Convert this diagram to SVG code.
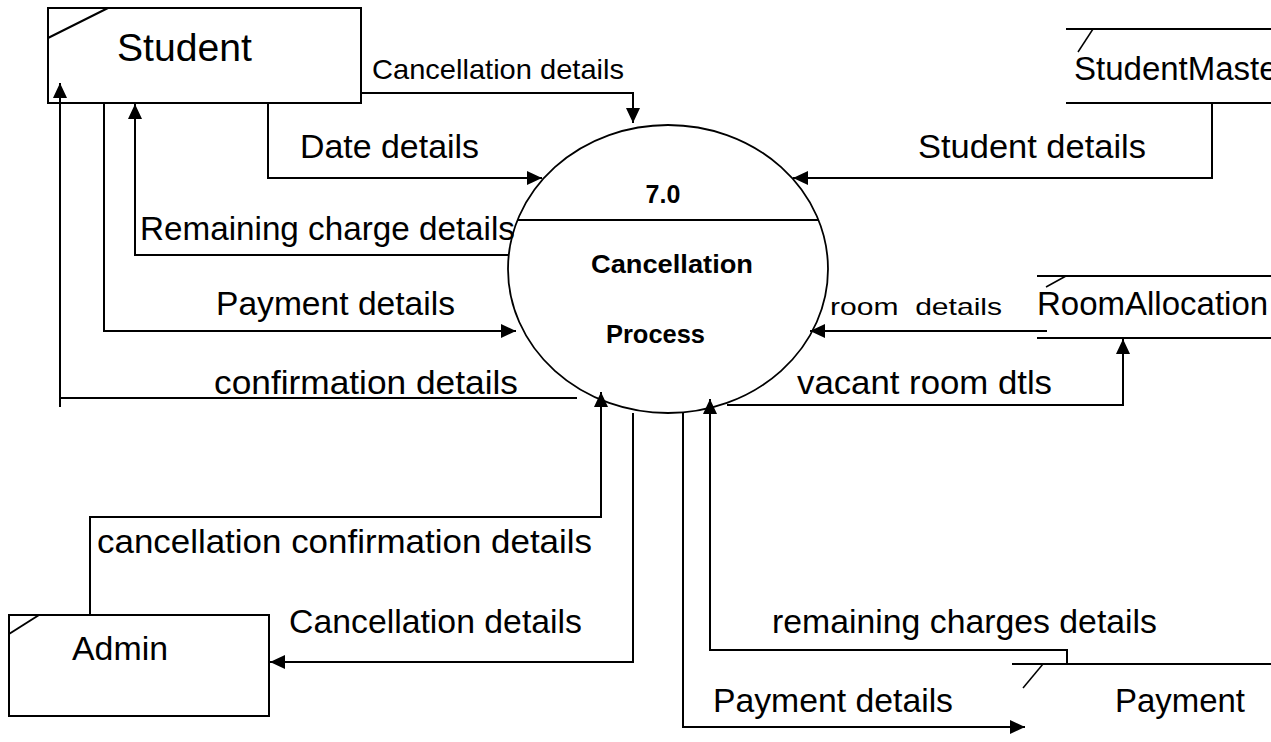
<svg xmlns="http://www.w3.org/2000/svg" width="1271" height="742" viewBox="0 0 1271 742">
<style>
.ln{fill:none;stroke:#000;stroke-width:2}
.bx{fill:#fff;stroke:#000;stroke-width:2}
.t{font-family:"Liberation Sans",Arial,sans-serif;font-size:33px;fill:#000}
.b{font-family:"Liberation Sans",Arial,sans-serif;font-size:25px;font-weight:bold;fill:#000}
.s{font-size:24px}
.a{marker-end:url(#arr)}
</style>
<defs>
<marker id="arr" markerUnits="userSpaceOnUse" markerWidth="16" markerHeight="14" refX="15" refY="7" orient="auto">
<path d="M0,0 L15,7 L0,14 z" fill="#000"/>
</marker>
</defs>
<rect width="1271" height="742" fill="#fff"/>
<g id="student">
<rect class="bx" x="48" y="8" width="313" height="95"/>
<line class="ln" x1="48" y1="38" x2="108" y2="8"/>
<text class="t" x="117" y="61" style="font-size:39px" textLength="135" lengthAdjust="spacingAndGlyphs">Student</text>
</g>
<g id="studentmaster">
<line class="ln" x1="1066" y1="29" x2="1271" y2="29"/>
<line class="ln" x1="1066" y1="103" x2="1271" y2="103"/>
<line class="ln" x1="1093" y1="29" x2="1078" y2="52" style="stroke-width:1.5"/>
<text class="t" x="1074" y="80">StudentMaster</text>
</g>
<g id="roomallocation">
<line class="ln" x1="1037" y1="276" x2="1271" y2="276"/>
<line class="ln" x1="1037" y1="338" x2="1271" y2="338"/>
<line class="ln" x1="1066" y1="276" x2="1046" y2="287" style="stroke-width:1.5"/>
<text class="t" x="1037" y="315">RoomAllocation</text>
</g>
<g id="payment">
<line class="ln" x1="1012" y1="664" x2="1271" y2="664"/>
<line class="ln" x1="1043" y1="664" x2="1023" y2="688" style="stroke-width:1.5"/>
<text class="t" x="1115" y="712" textLength="130" lengthAdjust="spacingAndGlyphs">Payment</text>
</g>
<g id="admin">
<rect class="bx" x="9" y="615" width="260" height="101"/>
<line class="ln" x1="9" y1="634" x2="39" y2="615"/>
<text class="t" x="72" y="660" textLength="96" lengthAdjust="spacingAndGlyphs">Admin</text>
</g>
<g id="process">
<ellipse cx="668" cy="269" rx="160" ry="144" fill="none" stroke="#000" stroke-width="1.8"/>
<line class="ln" x1="518" y1="220" x2="819" y2="220" style="stroke-width:1.8"/>
<text class="b" x="663" y="203" text-anchor="middle">7.0</text>
<text class="b" x="591" y="273" textLength="162" lengthAdjust="spacingAndGlyphs">Cancellation</text>
<text class="b" x="606" y="343" textLength="99" lengthAdjust="spacingAndGlyphs">Process</text>
</g>
<g id="connectors">
<path class="ln a" d="M361,93 H633 V123"/>
<path class="ln a" d="M268,103 V178 H542"/>
<path class="ln a" d="M1212,103 V178 H793"/>
<path class="ln a" d="M508,255 H135 V104"/>
<path class="ln a" d="M104,103 V331 H516"/>
<path class="ln" d="M577,398 H60"/>
<path class="ln a" d="M60,407 V83"/>
<path class="ln a" d="M1047,331 H810"/>
<path class="ln a" d="M727,405 H1123 V339"/>
<path class="ln a" d="M90,615 V517 H601 V392"/>
<path class="ln a" d="M633,413 V662 H270"/>
<path class="ln a" d="M683,413 V727 H1025"/>
<path class="ln a" d="M1067,664 V650 H710 V399"/>
</g>
<g id="labels">
<text class="t" x="372" y="79" style="font-size:28px" textLength="252" lengthAdjust="spacingAndGlyphs">Cancellation details</text>
<text class="t" x="300" y="158" textLength="179" lengthAdjust="spacingAndGlyphs">Date details</text>
<text class="t" x="918" y="158" textLength="228" lengthAdjust="spacingAndGlyphs">Student details</text>
<text class="t" x="140" y="240" textLength="375" lengthAdjust="spacingAndGlyphs">Remaining charge details</text>
<text class="t" x="216" y="315" textLength="239" lengthAdjust="spacingAndGlyphs">Payment details</text>
<text class="t s" x="830" y="315" xml:space="preserve" textLength="172" lengthAdjust="spacingAndGlyphs">room  details</text>
<text class="t" x="214" y="394" textLength="304" lengthAdjust="spacingAndGlyphs">confirmation details</text>
<text class="t" x="797" y="394" textLength="255" lengthAdjust="spacingAndGlyphs">vacant room dtls</text>
<text class="t" x="97" y="553" textLength="495" lengthAdjust="spacingAndGlyphs">cancellation confirmation details</text>
<text class="t" x="289" y="633" textLength="293" lengthAdjust="spacingAndGlyphs">Cancellation details</text>
<text class="t" x="772" y="633" textLength="385" lengthAdjust="spacingAndGlyphs">remaining charges details</text>
<text class="t" x="713" y="712" textLength="240" lengthAdjust="spacingAndGlyphs">Payment details</text>
</g>
</svg>
